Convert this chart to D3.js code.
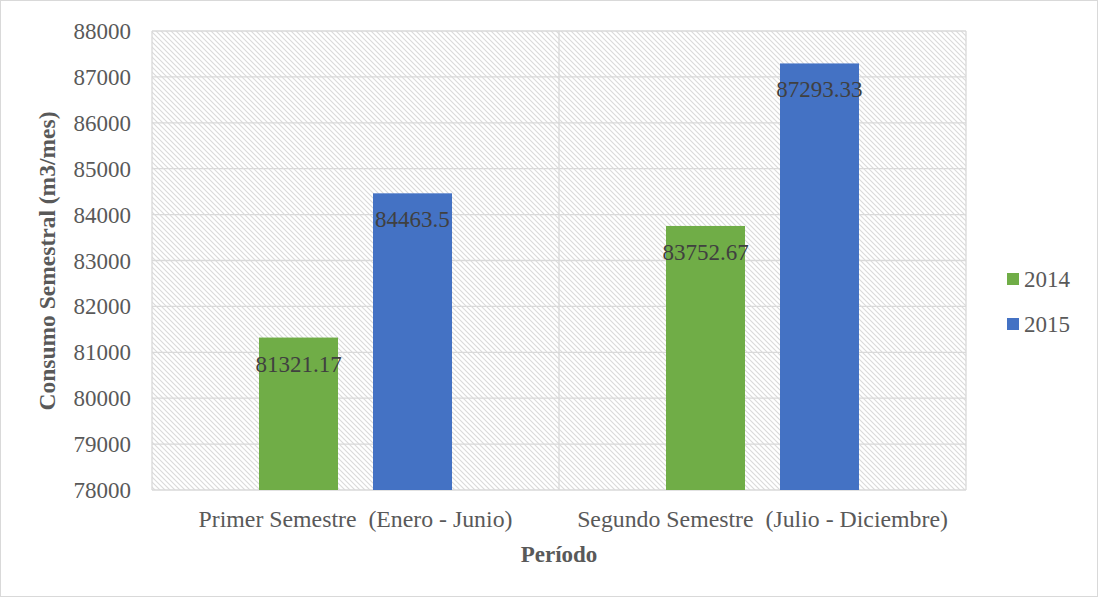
<!DOCTYPE html>
<html><head><meta charset="utf-8">
<script src="https://cdn.jsdelivr.net/npm/d3@7"></script>
<style>body{margin:0;background:#fff}svg{display:block}svg text{font-family:"Liberation Serif","Times New Roman",serif !important}</style>
</head><body>
<script>
const categories = ["Primer Semestre  (Enero - Junio)", "Segundo Semestre  (Julio - Diciembre)"];
const seriesNames = ["2014", "2015"];
const values2014 = [81321.17, 83752.67];
const values2015 = [84463.5, 87293.33];
const valueLabels2014 = ["81321.17", "83752.67"];
const valueLabels2015 = ["84463.5", "87293.33"];
const yTicks = [78000, 79000, 80000, 81000, 82000, 83000, 84000, 85000, 86000, 87000, 88000];
const colors = ["#70ad47", "#4472c4"];

const W = 1099, H = 598, FS = 23;
const svg = d3.select("body").append("svg").attr("width", W).attr("height", H);
const defs = svg.append("defs");
const pat = defs.append("pattern").attr("id","hatch").attr("patternUnits","userSpaceOnUse")
  .attr("width",5).attr("height",5);
pat.append("rect").attr("width",5).attr("height",5).attr("fill","#fff");
pat.append("path").attr("d","M-1,-1 L6,6 M-1,4 L1,6 M4,-1 L6,1").attr("stroke","#dadada").attr("stroke-width",1.1);

svg.append("rect").attr("x",0.5).attr("y",0.5).attr("width",W-2).attr("height",H-2)
  .attr("fill","#fff").attr("stroke","#d9d9d9");

const L = 152, R = 966, T = 31, B = 490;
const x0 = d3.scaleBand().domain(categories).range([L, R]).paddingInner(0).paddingOuter(0);
const y = d3.scaleLinear().domain([78000, 88000]).range([B, T]);

svg.append("rect").attr("x",L).attr("y",T).attr("width",R-L).attr("height",B-T).attr("fill","url(#hatch)");

svg.append("g").selectAll("line").data(yTicks).join("line")
  .attr("x1",L).attr("x2",R).attr("y1",d=>y(d)).attr("y2",d=>y(d))
  .attr("stroke","#d9d9d9").attr("stroke-width",1.3);
const vx = [L, L + x0.bandwidth(), R];
svg.append("g").selectAll("line").data(vx).join("line")
  .attr("x1",d=>d).attr("x2",d=>d).attr("y1",T).attr("y2",B)
  .attr("stroke","#d9d9d9").attr("stroke-width",1.3);

const yAxis = d3.axisLeft(y).tickValues(yTicks).tickSize(0).tickPadding(0).tickFormat(d3.format("d"));
const ga = svg.append("g").attr("transform",`translate(${L-21},0)`).call(yAxis);
ga.attr("font-family",null).attr("font-size",null);
ga.select(".domain").remove();
ga.selectAll("text").attr("font-size",FS).attr("fill","#595959").attr("dy","0.33em");

const x1 = d3.scaleBand().domain(seriesNames).range([0, x0.bandwidth()]).paddingInner(0.307).paddingOuter(0.9386);
const data = categories.map((c,i)=>({c, vals:[
  {s:"2014", v:values2014[i], lab:valueLabels2014[i]},
  {s:"2015", v:values2015[i], lab:valueLabels2015[i]}]}));
const g = svg.append("g").selectAll("g").data(data).join("g")
  .attr("transform",d=>`translate(${x0(d.c)},0)`);
g.selectAll("rect").data(d=>d.vals).join("rect")
  .attr("x",d=>x1(d.s)).attr("width",x1.bandwidth())
  .attr("y",d=>y(d.v)).attr("height",d=>B-y(d.v))
  .attr("fill",(d,i)=>colors[i]);
g.selectAll("text").data(d=>d.vals).join("text")
  .attr("x",d=>x1(d.s)+x1.bandwidth()/2).attr("y",d=>y(d.v)+34)
  .attr("text-anchor","middle").attr("font-size",FS).attr("fill","#404040")
  .text(d=>d.lab);

const xAxis = d3.axisBottom(x0).tickSize(0).tickPadding(0);
const gx = svg.append("g").attr("transform",`translate(0,${B+37})`).call(xAxis);
gx.attr("font-family",null).attr("font-size",null);
gx.select(".domain").remove();
gx.selectAll("text").attr("font-size",23.8).attr("fill","#595959").attr("dy",0).style("white-space","pre");

svg.append("text").attr("x",(L+R)/2).attr("y",562).attr("text-anchor","middle")
  .attr("font-size",FS).attr("font-weight","bold").attr("fill","#595959").text("Período");
svg.append("text").attr("transform","translate(55,261) rotate(-90)").attr("text-anchor","middle")
  .attr("font-size",23.5).attr("font-weight","bold").attr("fill","#595959").text("Consumo Semestral (m3/mes)");

const lg = svg.append("g").selectAll("g").data(seriesNames).join("g")
  .attr("transform",(d,i)=>`translate(1007,${279+i*45})`);
lg.append("rect").attr("x",0).attr("y",-6).attr("width",12).attr("height",12).attr("fill",(d,i)=>colors[i]);
lg.append("text").attr("x",17).attr("y",8).attr("font-size",FS).attr("fill","#595959").text(d=>d);
</script>
</body></html>
